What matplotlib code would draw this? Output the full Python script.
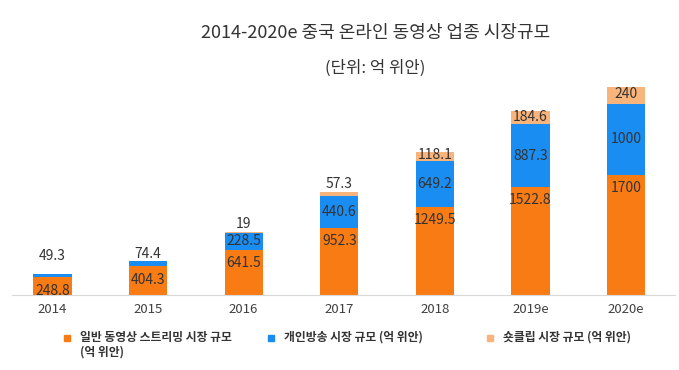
import matplotlib.pyplot as plt
from matplotlib.patches import Rectangle

plt.rcParams['font.family'] = ['Noto Sans CJK KR', 'DejaVu Sans']

years = ['2014', '2015', '2016', '2017', '2018', '2019e', '2020e']
streaming = [248.8, 404.3, 641.5, 952.3, 1249.5, 1522.8, 1700]
personal = [49.3, 74.4, 228.5, 440.6, 649.2, 887.3, 1000]
shortclip = [0, 0, 19, 57.3, 118.1, 184.6, 240]

names = ['일반 동영상 스트리밍 시장 규모\n(억 위안)', '개인방송 시장 규모 (억 위안)', '숏클립 시장 규모 (억 위안)']
colors = ['#F97B14', '#1A8DF2', '#F9B47C']
txt = '#333333'

fig = plt.figure(figsize=(6.79, 3.70), dpi=100)
ax = fig.add_axes([0.018, 0.203, 0.976, 0.581])

x = range(len(years))
w = 0.4
b1 = ax.bar(x, streaming, w, color=colors[0])
b2 = ax.bar(x, personal, w, bottom=streaming, color=colors[1])
bottom3 = [a + b for a, b in zip(streaming, personal)]
b3 = ax.bar(x, shortclip, w, bottom=bottom3, color=colors[2])

for i in x:
    # orange label just below the top of its segment
    ax.annotate(f'{streaming[i]:g}', (i, streaming[i]), xytext=(0, -4.5), textcoords='offset points',
                ha='center', va='top', fontsize=10, color=txt)
    top2 = bottom3[i]
    if personal[i] > 150:
        ax.text(i, streaming[i] + personal[i] / 2, f'{personal[i]:g}', ha='center', va='center',
                fontsize=10, color=txt)
    else:
        off = 8 if i == 0 else 0
        ax.annotate(f'{personal[i]:g}', (i, top2), xytext=(0, off), textcoords='offset points',
                    ha='center', va='bottom', fontsize=10, color=txt)
    if shortclip[i] == 0:
        continue
    if shortclip[i] > 100:
        ax.text(i, top2 + shortclip[i] / 2 + 20, f'{shortclip[i]:g}', ha='center', va='center',
                fontsize=10, color=txt)
    else:
        ax.annotate(f'{shortclip[i]:g}', (i, top2 + shortclip[i]), xytext=(0, 1), textcoords='offset points',
                    ha='center', va='bottom', fontsize=10, color=txt)

ax.set_xlim(-0.42, 6.51)
ax.set_ylim(0, 3040)
ax.set_xticks(list(x))
ax.set_xticklabels(years, fontsize=9.5, color='#404040')
ax.tick_params(axis='x', length=0, pad=6)
ax.set_yticks([])
for s in ['top', 'left', 'right']:
    ax.spines[s].set_visible(False)
ax.spines['bottom'].set_color('#d9d9d9')

fig.text(0.553, 0.91, '2014-2020e 중국 온라인 동영상 업종 시장규모', ha='center', va='center',
         fontsize=13, color=txt)
fig.text(0.553, 0.815, '(단위: 억 위안)', ha='center', va='center', fontsize=12, color=txt)

# legend, placed by hand to follow the reference spacing
leg_x = [67, 271, 490]
for lx, name, c in zip(leg_x, names, colors):
    fig.add_artist(Rectangle(((lx - 3) / 679, (370 - 341) / 370), 6 / 679, 6 / 370,
                             color=c, transform=fig.transFigure))
    fig.text((lx + 13) / 679, (370 - 331) / 370, name, ha='left', va='top', fontsize=8.5,
             fontweight='bold', color=txt, linespacing=1.2)

fig.savefig('out.png', dpi=100)
